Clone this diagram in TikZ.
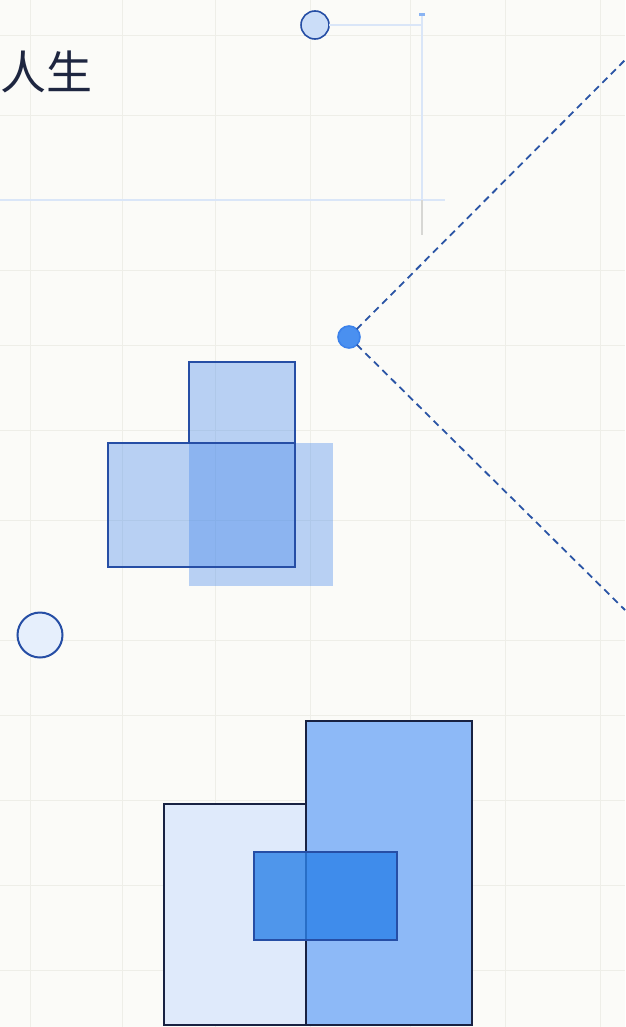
\documentclass[tikz,border=0pt]{standalone}
\definecolor{paper}{RGB}{251, 251, 248}
\definecolor{gridln}{RGB}{238, 238, 232}
\definecolor{guide}{RGB}{218, 230, 248}
\definecolor{guidegray}{RGB}{215, 215, 212}
\definecolor{ink}{RGB}{30, 38, 64}
\definecolor{edgeblue}{RGB}{38, 78, 165}
\definecolor{dashblue}{RGB}{42, 84, 165}
\definecolor{softblue}{RGB}{60, 130, 235}
\definecolor{paleblue}{RGB}{223, 234, 251}
\definecolor{midblue}{RGB}{141, 185, 247}
\definecolor{deepblue}{RGB}{44, 129, 232}
\definecolor{navy}{RGB}{24, 34, 66}
\definecolor{dotblue}{RGB}{74, 144, 240}
\definecolor{dotpale}{RGB}{203, 221, 248}
\definecolor{ringpale}{RGB}{230, 239, 252}
\usepackage{fontspec}
\newfontfamily\cjk{Noto Sans CJK SC}
\usepackage{tikz}
\usetikzlibrary{positioning}

\tikzset{
  blk/.style={rectangle, inner sep=0pt, outer sep=0pt, anchor=north west},
  dot/.style={circle, draw=edgeblue, line width=1.6pt, inner sep=0pt, outer sep=0pt},
}

\begin{document}
\begin{tikzpicture}[x=1pt, y=-1pt]
  \fill[paper] (0,0) rectangle (625,1027);
  \useasboundingbox (0,0) rectangle (625,1027);
  \foreach \gx in {30, 122, 215, 310, 410, 505, 600}
    \draw[gridln, line width=0.8pt] (\gx,0) -- (\gx,1027);
  \foreach \gy in {35, 115, 270, 345, 430, 520, 640, 715, 800, 885, 970}
    \draw[gridln, line width=0.8pt] (0,\gy) -- (625,\gy);

  \node[anchor=west, inner sep=0pt, text=ink, font=\cjk\fontsize{46}{46}\selectfont] (title) at (0,72) {人生};

  \coordinate (corner) at (422,25);
  \coordinate (vtop) at (422,15);
  \coordinate (vmid) at (422,200);
  \coordinate (vbot) at (422,235);
  \coordinate (hleft) at (0,200);
  \coordinate (hright) at (445,200);
  \draw[guide, line width=1.6pt] (hleft) -- (hright);
  \draw[guide, line width=2.2pt] (vtop) -- (vmid);
  \draw[guidegray, line width=2.2pt] (vmid) -- (vbot);
  \node[blk, anchor=center, minimum width=6, minimum height=3, fill=softblue!60] (tick) at (vtop) {};
  \node[dot, minimum size=28, fill=dotpale] (topdot) at (315,25) {};
  \draw[guide, line width=1.6pt] (topdot) -- (corner);

  \coordinate (upend) at (625,60);
  \coordinate (lowend) at (625,610);
  \node[dot, minimum size=22, fill=dotblue, draw=softblue] (hubdot) at (349,337) {};
  \draw[dashblue, line width=1.8pt, dash pattern=on 7pt off 5pt] (hubdot) -- (upend);
  \draw[dashblue, line width=1.8pt, dash pattern=on 7pt off 5pt] (hubdot) -- (lowend);

  \node[blk, minimum width=144, minimum height=143, fill=softblue, fill opacity=0.35] (shade) at (189,443) {};
  \node[blk, minimum width=187, minimum height=124, fill=softblue, fill opacity=0.35,
        draw=edgeblue, line width=1.8pt] (leftsq) at (108,443) {};
  \node[blk, minimum width=106, minimum height=81, fill=softblue, fill opacity=0.35,
        draw=edgeblue, line width=1.8pt] (topsq) at (189,362) {};

  \node[dot, minimum size=45, fill=ringpale, line width=2pt] (sidedot) at (40,635) {};

  \node[blk, minimum width=142, minimum height=221, fill=paleblue, draw=navy, line width=1.8pt] (basesq) at (164,804) {};
  \node[blk, minimum width=166, minimum height=304, fill=midblue, draw=navy, line width=1.8pt] (tallsq) at (306,721) {};
  \node[blk, minimum width=143, minimum height=88, fill=deepblue, fill opacity=0.8,
        draw=edgeblue, line width=1.2pt] (coresq) at (254,852) {};
\end{tikzpicture}
\end{document}
